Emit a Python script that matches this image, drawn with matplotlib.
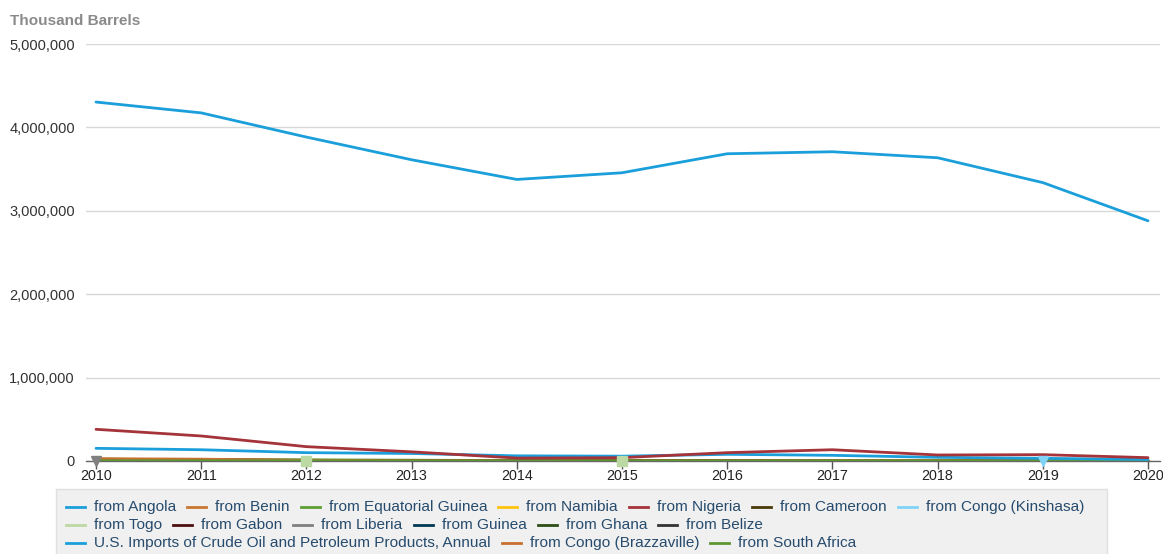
import numpy as np
import matplotlib
matplotlib.use("Agg")
import matplotlib.pyplot as plt
from matplotlib.lines import Line2D
from matplotlib.patches import Rectangle
from matplotlib.ticker import FuncFormatter

plt.rcParams['font.family'] = ['Liberation Sans', 'DejaVu Sans']

# --- DATA (thousand barrels) ---
years = np.arange(2010, 2021)
nan = np.nan

total = [4304000, 4174000, 3884000, 3612000, 3376000, 3456000, 3684000, 3708000, 3636000, 3338000, 2880000]
angola = [152000, 135000, 100000, 90000, 62000, 58000, 80000, 68000, 44000, 32000, 18000]
nigeria = [380000, 300000, 172000, 110000, 35000, 40000, 100000, 135000, 72000, 76000, 40000]
benin = [nan, 1500, 800, nan, nan, nan, nan, nan, nan, nan, nan]
eq_guinea = [20000, 17000, 14000, 10000, 5000, 3000, 7000, 6000, 3000, 2000, 800]
namibia = [nan, nan, 600, 500, nan, nan, nan, nan, nan, nan, nan]
cameroon = [22000, 14000, 3000, 3000, 2000, 2500, 2000, 1500, 1000, 500, 300]
congo_kin = [2000, 1500, 1000, 800, 500, 400, 300, 200, nan, 1000, nan]
togo = [nan, nan, 1000, nan, nan, 1000, nan, nan, nan, nan, nan]
gabon = [18000, 12000, 8000, 6000, 3000, 2000, 3000, 2000, 1000, 900, 200]
liberia = [1000, nan, nan, nan, nan, nan, nan, nan, nan, nan, nan]
guinea = [nan, 300, 400, 300, nan, nan, nan, nan, nan, nan, nan]
ghana = [500, 2000, 7000, 3000, 2000, 5000, 4000, 3500, 5000, 3000, 2000]
belize = [1500, 1200, 900, 700, 600, 500, 400, 300, 200, 200, 100]
congo_bra = [28000, 22000, 8000, 4000, 3000, 2000, 3000, 4000, 5000, 2000, 1000]
south_africa = [3000, 2500, 2000, 1500, 1500, 1200, 1000, 1500, 1200, 900, 700]

# name, values, colour, marker (for isolated points)
series = [
    ("from Angola", angola, "#1a9fdb", "o"),
    ("from Benin", benin, "#c8762f", "s"),
    ("from Equatorial Guinea", eq_guinea, "#5c9e31", "D"),
    ("from Namibia", namibia, "#ffc20e", "^"),
    ("from Nigeria", nigeria, "#a4343a", "v"),
    ("from Cameroon", cameroon, "#4b3b0a", "o"),
    ("from Congo (Kinshasa)", congo_kin, "#7fd3f7", "v"),
    ("from Togo", togo, "#bcd9a3", "s"),
    ("from Gabon", gabon, "#4b1010", "o"),
    ("from Liberia", liberia, "#7f7f7f", "v"),
    ("from Guinea", guinea, "#003953", "o"),
    ("from Ghana", ghana, "#2c4e14", "s"),
    ("from Belize", belize, "#333333", "D"),
    ("U.S. Imports of Crude Oil and Petroleum Products, Annual", total, "#1a9fdb", "o"),
    ("from Congo (Brazzaville)", congo_bra, "#c8702f", "s"),
    ("from South Africa", south_africa, "#5d9732", "D"),
]

legend_rows = [
    ["from Angola", "from Benin", "from Equatorial Guinea", "from Namibia",
     "from Nigeria", "from Cameroon", "from Congo (Kinshasa)"],
    ["from Togo", "from Gabon", "from Liberia", "from Guinea", "from Ghana", "from Belize"],
    ["U.S. Imports of Crude Oil and Petroleum Products, Annual",
     "from Congo (Brazzaville)", "from South Africa"],
]

# --- FIGURE ---
W, H = 1163, 554
fig = plt.figure(figsize=(W / 100, H / 100), dpi=100)
ax = fig.add_axes([86 / W, (H - 461) / H, (1160 - 86) / W, (461 - 44) / H])

# small series first, the big three on top
top3 = ("from Angola", "from Nigeria", "U.S. Imports of Crude Oil and Petroleum Products, Annual")
order = [s for s in series if s[0] not in top3] + [s for s in series if s[0] in top3]
colors = {}
for name, vals, col, mk in order:
    v = np.array(vals, dtype=float)
    colors[name] = col
    ax.plot(years, v, color=col, lw=2, solid_capstyle='round', zorder=3)
    # isolated points get a marker
    for i in range(len(v)):
        if np.isnan(v[i]):
            continue
        left = i == 0 or np.isnan(v[i - 1])
        right = i == len(v) - 1 or np.isnan(v[i + 1])
        if left and right:
            ax.plot(years[i], v[i], marker=mk, color=col, ms=6.5, mec=col, zorder=4, clip_on=False)

ax.set_xlim(2010 - 0.095, 2020 + 0.114)
ax.set_ylim(0, 5000000)
ax.set_yticks(np.arange(0, 5000001, 1000000))
ax.yaxis.set_major_formatter(FuncFormatter(lambda v, p: f"{int(v):,}"))
ax.set_xticks(years)
ax.grid(axis='y', color='#d8d8d8', lw=1)
ax.set_axisbelow(True)
for s in ['top', 'right', 'left']:
    ax.spines[s].set_visible(False)
ax.spines['bottom'].set_color('#666666')
ax.spines['bottom'].set_linewidth(1)
ax.tick_params(axis='y', length=0, labelsize=10.5, labelcolor='#333333', pad=8)
ax.tick_params(axis='x', length=6, width=1, color='#555555', labelsize=10.3,
               labelcolor='#222222', pad=0)

fig.text(10 / W, 1 - 21 / H, "Thousand Barrels", fontsize=11, fontweight='bold',
         color='#8a8a8a', va='center', ha='left')

# --- LEGEND (flow layout like the source) ---
fig.add_artist(Rectangle((56 / W, -0.02), (1107 - 56) / W, (554 - 489) / H + 0.02,
                         transform=fig.transFigure, facecolor='#f0f0f0',
                         edgecolor='#e0e0e0', lw=1, zorder=0))
fig.canvas.draw()
renderer = fig.canvas.get_renderer()
row_y = [507, 525, 543]
for r, row in enumerate(legend_rows):
    x = 66
    y = 1 - row_y[r] / H
    for name in row:
        fig.add_artist(Line2D([x / W, (x + 19) / W], [y, y], transform=fig.transFigure,
                              color=colors[name], lw=2))
        t = fig.text((x + 28) / W, y, name, fontsize=11.1, color='#274b6d',
                     va='center', ha='left')
        bb = t.get_window_extent(renderer)
        x = x + 28 + bb.width + 11

fig.savefig("out.png", dpi=100)
